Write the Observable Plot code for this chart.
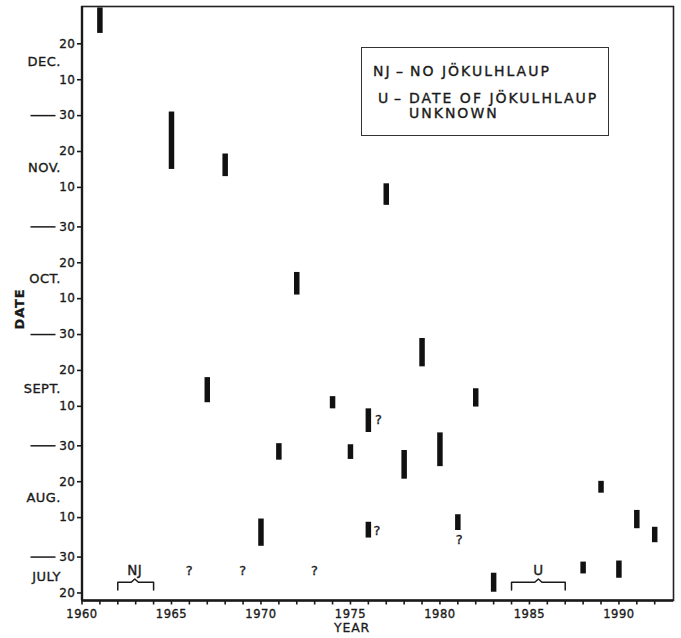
<!DOCTYPE html>
<html>
<head>
<meta charset="utf-8">
<script src="https://cdn.jsdelivr.net/npm/d3@7"></script>
<script src="https://cdn.jsdelivr.net/npm/@observablehq/plot@0.6"></script>
<style>
  body { margin: 0; background: #fff; }
  #wrap { position: relative; width: 681px; height: 638px; font-family: "DejaVu Sans", sans-serif; color: #1a1a1a; overflow: hidden; }
  #wrap svg { position: absolute; left: 0; top: 0; }
  #wrap svg text { stroke: #1a1a1a; stroke-width: 0.35px; }
  .abs { position: absolute; white-space: nowrap; letter-spacing: 0.8px; -webkit-text-stroke: 0.3px #1a1a1a; }
  #legend { position: absolute; left: 361px; top: 47px; width: 248px; height: 89px; border: 1.5px solid #333; box-sizing: border-box; }
  #legend span { position: absolute; font-size: 14px; line-height: 16px; letter-spacing: 2px; white-space: nowrap; color: #1a1a1a; -webkit-text-stroke: 0.35px #1a1a1a; }
</style>
</head>
<body>
<div id="wrap"></div>
<script>
// ---- data (day-of-year values, non-leap year: Jan 1 = 1, Jul 20 = 201, Dec 20 = 354) ----
const eventYears = [1961, 1965, 1967, 1968, 1970, 1971, 1972, 1974, 1975, 1976, 1976, 1977, 1978, 1979, 1980, 1981, 1982, 1983, 1988, 1989, 1990, 1991, 1992];
const eventStart = [356.9, 319, 254, 317, 214, 238, 284, 252.3, 238.2, 245.7, 216.3, 309, 232.7, 264, 236.2, 218.4, 252.8, 201.2, 206.3, 228.8, 205.1, 218.9, 215];
const eventEnd   = [364, 335, 261, 323.3, 221.6, 242.6, 290.3, 255.7, 242.3, 252.3, 220.7, 315, 240.7, 271.9, 245.6, 222.8, 257.9, 206.5, 209.6, 232.1, 209.9, 224, 219.3];

// question marks (uncertain / missing dates)
const qYears = [1966, 1969, 1973, 1976.58, 1976.5, 1981.09];
const qDays  = [207.2, 207.2, 207.2, 249.1, 218.4, 215.9];

// braces: NJ = no jökulhlaup, U = date unknown
const braceLabels = ["NJ", "U"];
const braceFrom = [1962, 1984];
const braceTo   = [1964, 1987];
const braceDay = 204;
const braceLabelDay = 207.2;

// axes
const xDomain = [1960, 1993.05];
const yDomain = [198.9, 364.4];
const yearTicks = d3.range(1960, 1993);
const dayTicks = [201, 211, 222, 232, 242, 253, 263, 273, 283, 293, 303, 314, 324, 334, 344, 354];
const monthBoundaries = [211, 242, 273, 303, 334];
const monthNames = ["JULY", "AUG.", "SEPT.", "OCT.", "NOV.", "DEC."];
const monthLabelDays = [205.5, 227.5, 258, 288.5, 319.5, 349];

// ---- build tables ----
const events = eventYears.map((y, i) => ({year: y, start: eventStart[i], end: eventEnd[i]}));
const questions = qYears.map((y, i) => ({year: y, day: qDays[i]}));
const months = monthNames.map((n, i) => ({name: n, day: monthLabelDays[i]}));
const braces = braceLabels.map((l, i) => ({label: l, from: braceFrom[i], to: braceTo[i], mid: (braceFrom[i] + braceTo[i]) / 2}));
const bracePts = [];
for (const b of braces) {
  const m = b.label === "NJ" ? b.mid - 0.05 : b.mid;
  [[b.from, braceDay - 2.2], [b.from, braceDay], [m - 0.2, braceDay], [m, braceDay + 0.9], [m + 0.2, braceDay], [b.to, braceDay], [b.to, braceDay - 2.2]]
    .forEach(([x, y]) => bracePts.push({label: b.label, x, y}));
}
const dayOfMonth = d => new Date(1975, 0, d).getDate();

const chart = Plot.plot({
  width: 681,
  height: 638,
  marginLeft: 81.5,
  marginRight: 8,
  marginTop: 6,
  marginBottom: 38,
  x: {domain: xDomain, label: null},
  y: {domain: yDomain, label: null},
  style: {fontFamily: "DejaVu Sans, sans-serif", fontSize: "12px", color: "#1a1a1a", background: "white", letterSpacing: "0.5px", overflow: "visible"},
  marks: [
    Plot.frame({stroke: "#222", strokeWidth: 1.6}),
    Plot.ruleX([xDomain[0]], {stroke: "#1a1a1a", strokeWidth: 2.4}),
    Plot.ruleY([yDomain[0]], {stroke: "#1a1a1a", strokeWidth: 2.6}),
    Plot.axisX({ticks: yearTicks, tickSize: 4.5, tickPadding: 5, tickFormat: d => (d % 5 === 0 ? String(d) : ""), fontSize: 11.5, stroke: "#1a1a1a", strokeWidth: 1.6}),
    Plot.axisY({ticks: dayTicks, tickSize: 4.5, tickPadding: 2, tickFormat: dayOfMonth, fontSize: 12, stroke: "#1a1a1a", strokeWidth: 1.6}),
    Plot.axisY({ticks: monthBoundaries, tickSize: 25, dx: -26, tickFormat: () => "", stroke: "#1a1a1a", strokeWidth: 1.5}),
    Plot.text(months, {y: "day", text: "name", frameAnchor: "left", textAnchor: "end", dx: -21, fontSize: 13, fill: "#1a1a1a"}),
    Plot.ruleX(events, {x: "year", y1: "start", y2: "end", stroke: "#111", strokeWidth: 5.5}),
    Plot.text(questions, {x: "year", y: "day", text: () => "?", fontSize: 13, fill: "#1a1a1a"}),
    Plot.line(bracePts, {x: "x", y: "y", z: "label", stroke: "#1a1a1a", strokeWidth: 1.5, curve: "linear"}),
    Plot.text(braces, {x: d => d.label === "NJ" ? d.mid - 0.05 : d.mid, y: () => braceLabelDay, text: "label", fontSize: 13.5, fill: "#1a1a1a"})
  ]
});

const wrap = document.getElementById("wrap");
wrap.appendChild(chart);

// axis titles
const dateT = document.createElement("div");
dateT.className = "abs";
dateT.textContent = "DATE";
Object.assign(dateT.style, {left: "19.5px", top: "309px", transform: "translate(-50%,-50%) rotate(-90deg)", fontSize: "13px", fontWeight: "bold", lineHeight: "14px"});
wrap.appendChild(dateT);

const yearT = document.createElement("div");
yearT.className = "abs";
yearT.textContent = "YEAR";
Object.assign(yearT.style, {left: "352px", top: "628px", transform: "translate(-50%,-50%)", fontSize: "12.5px", lineHeight: "14px"});
wrap.appendChild(yearT);

// legend box
const legend = document.createElement("div");
legend.id = "legend";
const legendItems = [
  {text: "NJ", x: 11, y: 71.7},
  {text: "–", x: 34, y: 71.7},
  {text: "NO JÖKULHLAUP", x: 48, y: 71.7},
  {text: "U", x: 16, y: 98.3},
  {text: "–", x: 32, y: 98.3},
  {text: "DATE OF JÖKULHLAUP", x: 47, y: 98.3},
  {text: "UNKNOWN", x: 47, y: 113.3}
];
for (const it of legendItems) {
  const s = document.createElement("span");
  s.textContent = it.text;
  s.style.left = it.x + "px";
  s.style.top = (it.y - 47 - 8 - 1.5) + "px";
  legend.appendChild(s);
}
wrap.appendChild(legend);
</script>
</body>
</html>
